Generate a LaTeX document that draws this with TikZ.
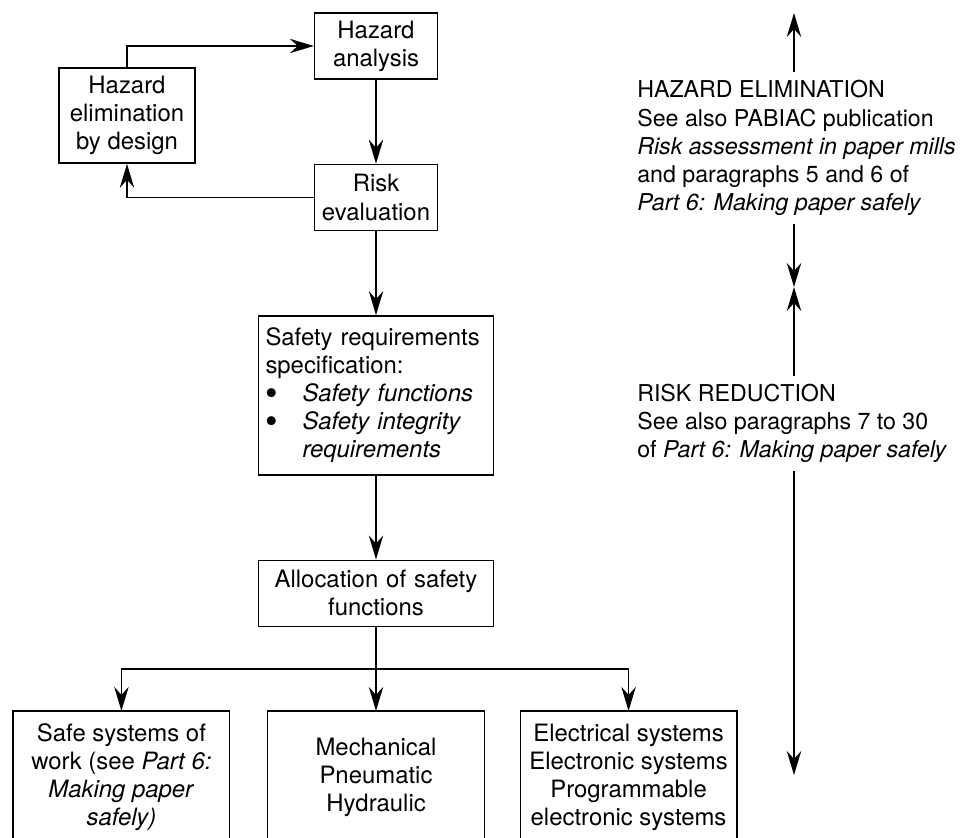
\documentclass[tikz,border=0pt]{standalone}
\usepackage{fontspec}
\setmainfont{TeX Gyre Heros}
\usepackage{tikz}
\usetikzlibrary{arrows.meta}
\usetikzlibrary{calc, positioning}
\tikzstyle{block} = [draw, line width=1pt,
	align=center,
	font=\fontsize{17}{20}\selectfont,
	minimum width=3.075cm,
	minimum height=1.65cm]
\tikzstyle{widebox} = [block,
	minimum width=5.875cm,
	text width=5.525cm,
	inner xsep=0.175cm]
\tikzstyle{lowbox} = [align=center,
	font=\fontsize{17}{20}\selectfont,
	minimum width=5.4cm,
	minimum height=3.3cm]
\tikzstyle{frame} = [line width=1pt]
\tikzstyle{note} = [align=left,
	font=\fontsize{16.5}{20}\selectfont,
	inner xsep=0pt, inner ysep=0.2cm]
\tikzstyle{arrow} = [-{Stealth[length=6mm, width=3.6mm, inset=2mm]}, line width=1pt]
\newcommand{\bulletitem}[1]{\makebox[0.925cm][l]{\raisebox{-0.085cm}{\scalebox{1.5}{\textbullet}}}\textit{#1}}

\begin{document}
\begin{tikzpicture}
			\useasboundingbox (0,0) rectangle (24.15,-20.95);
			
			\node (hazan) [block] at (9.4, -1.15) {Hazard\\analysis};
			\node (riskev) [block, below=2.1cm] at (hazan.south) {Risk\\evaluation};
			\node (hazel) [block, minimum width=3.4cm, minimum height=2.375cm] at (3.175, -2.89) {Hazard\\elimination\\by design};
			\draw [arrow] (hazan) -- (riskev);
			\draw [arrow] (hazel.north) |- (hazan.west);
			\draw [arrow] (riskev.west) -| (hazel.south);
			
			\node (safety) [widebox, align=left, minimum height=3.975cm, below=2.1cm] at (riskev.south) {Safety requirements\\specification:\\\bulletitem{Safety functions}\\\bulletitem{Safety integrity}\\\hspace*{0.925cm}\textit{requirements}};
			\node (alloc) [widebox, below=2.1cm] at (safety.south) {Allocation of safety\\functions};
			\draw [arrow] (riskev) -- (safety);
			\draw [arrow] (safety) -- (alloc);
			
			% bottom boxes run off the page: no bottom side
			\node (mech) [lowbox, below=2.1cm] at (alloc.south) {Mechanical\\Pneumatic\\Hydraulic};
			\node (safesys) [lowbox, left=0.95cm] at (mech.west) {Safe systems of\\work (see \textit{Part 6:}\\\textit{Making paper}\\\textit{safely)}};
			\node (elec) [lowbox, right=0.9cm] at (mech.east) {Electrical systems\\Electronic systems\\Programmable\\electronic systems};
			\draw [frame] (safesys.south west) |- (safesys.north east) -- (safesys.south east);
			\draw [frame] (mech.south west) |- (mech.north east) -- (mech.south east);
			\draw [frame] (elec.south west) |- (elec.north east) -- (elec.south east);
			\coordinate (split) at ($ (alloc.south)!0.5!(mech.north) $);
			\draw [frame] (safesys.north |- split) -- (elec.north |- split);
			\draw [arrow] (alloc) -- (mech);
			\draw [arrow] (safesys.north |- split) -- (safesys.north);
			\draw [arrow] (elec.north |- split) -- (elec.north);
			
			\coordinate (hetop) at (19.85, -0.325);
			\coordinate (meet) at (19.85, -7.175);
			\coordinate (rrbottom) at (19.85, -19.375);
			\node (hazelnote) [note, anchor=west] at (15.925, -3.7) {HAZARD ELIMINATION\\See also PABIAC publication\\\textit{Risk assessment in paper mills}\\and paragraphs 5 and 6 of\\\textit{Part 6: Making paper safely}};
			\node (risknote) [note, anchor=west] at (15.925, -10.59) {RISK REDUCTION\\See also paragraphs 7 to 30\\of \textit{Part 6: Making paper safely}};
			\draw [arrow] (hazelnote.north -| hetop) -- (hetop);
			\draw [arrow] (hazelnote.south -| meet) -- (meet);
			\draw [arrow] (risknote.north -| meet) -- (meet);
			\draw [arrow] (risknote.south -| rrbottom) -- (rrbottom);
			
		\end{tikzpicture}
\end{document}
